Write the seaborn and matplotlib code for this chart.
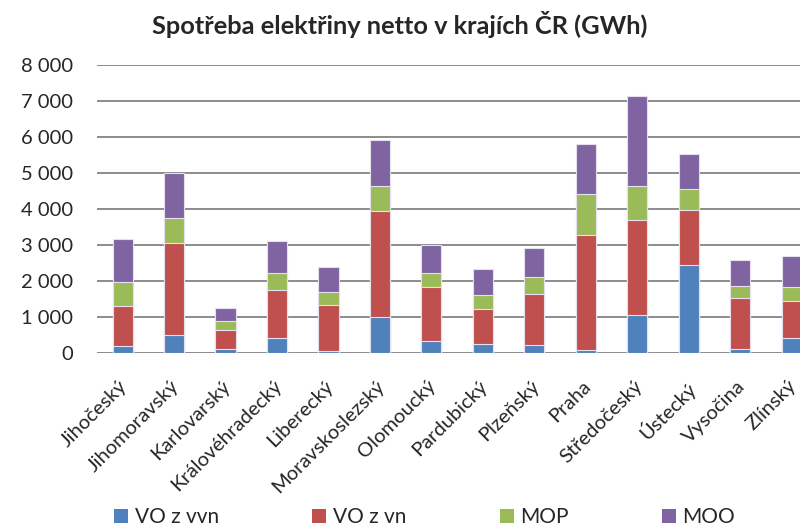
import numpy as np
import pandas as pd
import seaborn as sns
import matplotlib.pyplot as plt
from matplotlib.patches import Patch
from matplotlib.ticker import FuncFormatter
from matplotlib.transforms import ScaledTranslation

# data (GWh)
kraje = ['Jihočeský', 'Jihomoravský', 'Karlovarský', 'Královéhradecký', 'Liberecký',
         'Moravskoslezský', 'Olomoucký', 'Pardubický', 'Plzeňský', 'Praha',
         'Středočeský', 'Ústecký', 'Vysočina', 'Zlínský']
vo_vvn = [194, 508, 111, 416, 65, 1007, 333, 249, 222, 83, 1044, 2439, 111, 406]
vo_vn = [1099, 2541, 517, 1321, 1256, 2919, 1487, 971, 1404, 3197, 2633, 1524, 1404, 1026]
mop = [684, 692, 268, 489, 369, 712, 397, 397, 471, 1127, 951, 582, 351, 406]
moo = [1192, 1248, 342, 887, 684, 1274, 767, 702, 804, 1394, 2504, 979, 702, 860]

serie = ['VO z vvn', 'VO z vn', 'MOP', 'MOO']
barvy = ['#4F81BD', '#C0504D', '#9BBB59', '#8064A2']

sns.set_style('white')
plt.rcParams['font.family'] = ['Lato', 'DejaVu Sans']

fig = plt.figure(figsize=(8, 5.3), dpi=100)
ax = fig.add_axes([0.121, 0.334, 0.901, 0.544])

# kumulativni soucty, kresleno od nejvyssi vrstvy
df = pd.DataFrame({'kraj': kraje, 'VO z vvn': vo_vvn, 'VO z vn': vo_vn, 'MOP': mop, 'MOO': moo})
cum = df[serie].cumsum(axis=1)
for s, c in reversed(list(zip(serie, barvy))):
    sns.barplot(x=df['kraj'], y=cum[s], color=c, width=0.39, ax=ax,
                edgecolor='#e6e0ee', linewidth=0.8, saturation=1)

ax.set_ylim(0, 8000)
ax.set_xlim(-0.5, 13.5)
ax.set_yticks(range(0, 8001, 1000))
ax.yaxis.set_major_formatter(FuncFormatter(lambda v, p: f'{int(v):,}'.replace(',', ' ')))
ax.grid(axis='y', color='#8c8c8c', linewidth=1.4)
ax.set_axisbelow(True)
for sp in ['top', 'right', 'left', 'bottom']:
    ax.spines[sp].set_visible(False)
ax.tick_params(axis='both', length=0)
ax.tick_params(axis='y', pad=17, labelsize=14.5)
ax.tick_params(axis='x', pad=17.5, labelsize=14.5)
posun = ScaledTranslation(-4 / 100, 0, fig.dpi_scale_trans)
for t in ax.get_xticklabels():
    t.set_rotation(45)
    t.set_ha('right')
    t.set_rotation_mode('anchor')
    t.set_transform(t.get_transform() + posun)
ax.set_xlabel('')
ax.set_ylabel('')

fig.text(0.5, 0.953, 'Spotřeba elektřiny netto v krajích ČR (GWh)', ha='center', va='center',
         fontsize=18.3, fontweight='bold')

handles = [Patch(facecolor=c, edgecolor='none') for c in barvy]
fig.legend(handles, serie, loc='center', bbox_to_anchor=(0.531, 0.024), ncol=4, frameon=False,
           fontsize=15, handlelength=0.67, handleheight=0.67, handletextpad=0.3,
           columnspacing=4.5, borderpad=0)

fig.savefig('out.png', dpi=100)
